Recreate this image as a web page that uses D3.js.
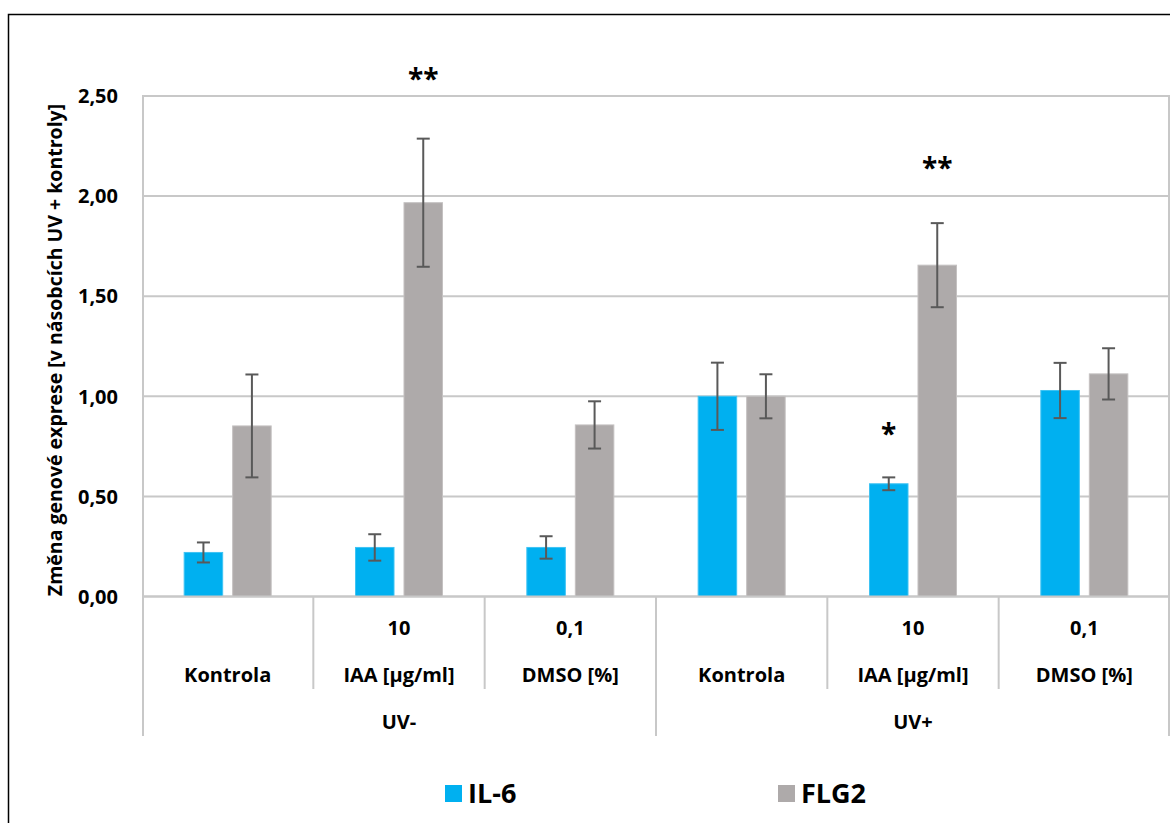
<!DOCTYPE html>
<html><head><meta charset="utf-8">
<script src="https://cdn.jsdelivr.net/npm/d3@7"></script>
<style>
body{margin:0;background:#fff}
svg{display:block}
text{font-family:"Open Sans",sans-serif;font-weight:bold;fill:#000}
</style>
</head><body>
<svg id="c" width="1170" height="823"></svg>
<script>
// ---- data ----
const categories = ["UV- Kontrola","UV- IAA","UV- DMSO","UV+ Kontrola","UV+ IAA","UV+ DMSO"];
const doseLabels = ["", "10", "0,1", "", "10", "0,1"];
const treatmentLabels = ["Kontrola","IAA [µg/ml]","DMSO [%]","Kontrola","IAA [µg/ml]","DMSO [%]"];
const groupLabels = ["UV-","UV+"];
const groupSpans = [[0,2],[3,5]];
const series = ["IL-6","FLG2"];
const il6Values  = [0.220, 0.245, 0.245, 1.000, 0.563, 1.029];
const il6Errors  = [0.050, 0.066, 0.056, 0.168, 0.032, 0.138];
const flg2Values = [0.852, 1.967, 0.857, 1.000, 1.655, 1.112];
const flg2Errors = [0.257, 0.320, 0.118, 0.110, 0.210, 0.128];
const yTicks = [0, 0.5, 1, 1.5, 2, 2.5];
const yTickLabels = ["0,00","0,50","1,00","1,50","2,00","2,50"];
const yTitle = "Změna genové exprese [v násobcích UV + kontroly]";
const annotations = [
  {cat:1, series:"FLG2", text:"**", value:2.607},
  {cat:4, series:"IL-6", text:"*",  value:0.836},
  {cat:4, series:"FLG2", text:"**", value:2.163}
];

const seriesValues = {"IL-6": il6Values, "FLG2": flg2Values};
const seriesErrors = {"IL-6": il6Errors, "FLG2": flg2Errors};
const colors = {"IL-6": "#00b0f0", "FLG2": "#aeaaaa"};
const edgeColors = {"IL-6": "#3fc3f3", "FLG2": "#c4c1c1"};

// ---- layout ----
const svg = d3.select("#c");
const plot = {left:142, right:1170, top:96, bottom:596.5};
const gridColor = "#c8c8c8";

// chart border
svg.append("rect").attr("x",8.5).attr("y",14.5).attr("width",1180).attr("height",830)
  .attr("fill","none").attr("stroke","#000").attr("stroke-width",1.5);

const x0 = d3.scaleBand().domain(categories).range([plot.left, plot.right]).padding(0);
const bw = x0.bandwidth();
const x1 = d3.scaleBand().domain(series).range([bw/2 - 43.5, bw/2 + 43.5]).paddingInner(0.206).paddingOuter(0);
const y = d3.scaleLinear().domain([0, 2.5]).range([plot.bottom, plot.top]);

// gridlines
svg.append("g").selectAll("line").data(yTicks).join("line")
  .attr("x1", plot.left).attr("x2", plot.right)
  .attr("y1", d => y(d)).attr("y2", d => y(d))
  .attr("stroke", gridColor).attr("stroke-width", 2);

// plot area right border
svg.append("line").attr("x1",plot.right-1).attr("x2",plot.right-1).attr("y1",plot.top).attr("y2",plot.bottom)
  .attr("stroke",gridColor).attr("stroke-width",2);

// y tick labels
svg.append("g").selectAll("text").data(yTicks).join("text")
  .attr("x", 118).attr("y", d => y(d)).attr("dy","0.36em")
  .attr("text-anchor","end").attr("font-size",20)
  .text((d,i) => yTickLabels[i]);

// y title
svg.append("text").attr("transform","translate(55,350) rotate(-90)")
  .attr("text-anchor","middle").attr("dy","0.36em").attr("font-size",19.5)
  .text(yTitle);

// bars
const barData = [];
categories.forEach((c,i) => series.forEach(s => barData.push({c, i, s, v: seriesValues[s][i], e: seriesErrors[s][i]})));

svg.append("g").selectAll("rect").data(barData).join("rect")
  .attr("x", d => x0(d.c) + x1(d.s))
  .attr("y", d => y(d.v))
  .attr("width", x1.bandwidth())
  .attr("height", d => y(0) - y(d.v))
  .attr("fill", d => colors[d.s])
  .attr("stroke", d => edgeColors[d.s]).attr("stroke-width", 1);

// zero line on top
svg.append("line").attr("x1",plot.left).attr("x2",plot.right).attr("y1",y(0)).attr("y2",y(0))
  .attr("stroke",gridColor).attr("stroke-width",2);

// error bars
const eb = svg.append("g").attr("stroke","#595959").attr("stroke-width",2);
barData.forEach(d => {
  const cx = x0(d.c) + x1(d.s) + x1.bandwidth()/2;
  eb.append("line").attr("x1",cx).attr("x2",cx).attr("y1",y(d.v+d.e)).attr("y2",y(d.v-d.e));
  eb.append("line").attr("x1",cx-6.5).attr("x2",cx+6.5).attr("y1",y(d.v+d.e)).attr("y2",y(d.v+d.e));
  eb.append("line").attr("x1",cx-6.5).attr("x2",cx+6.5).attr("y1",y(d.v-d.e)).attr("y2",y(d.v-d.e));
});

// annotations
svg.append("g").selectAll("text").data(annotations).join("text")
  .attr("x", d => x0(categories[d.cat]) + x1(d.series) + x1.bandwidth()/2)
  .attr("y", d => y(d.value)).attr("dy","0.52em")
  .attr("text-anchor","middle").attr("font-size",28)
  .text(d => d.text);

// category axis: separators
const sepInner = [1,2,4,5];
svg.append("g").selectAll("line").data(sepInner).join("line")
  .attr("x1", i => x0(categories[i])).attr("x2", i => x0(categories[i]))
  .attr("y1", plot.bottom).attr("y2", 689)
  .attr("stroke", gridColor).attr("stroke-width", 2);
const sepGroup = [plot.left + 1, x0(categories[3]), plot.right - 1];
svg.append("g").selectAll("line").data(sepGroup).join("line")
  .attr("x1", d => d).attr("x2", d => d)
  .attr("y1", (d,i) => i === 1 ? plot.bottom : plot.top).attr("y2", 736)
  .attr("stroke", gridColor).attr("stroke-width", 2);

// category labels
svg.append("g").selectAll("text").data(categories).join("text")
  .attr("x", c => x0(c) + bw/2).attr("y", 628).attr("dy","0.36em")
  .attr("text-anchor","middle").attr("font-size",20)
  .text((c,i) => doseLabels[i]);
svg.append("g").selectAll("text").data(categories).join("text")
  .attr("x", c => x0(c) + bw/2).attr("y", 675).attr("dy","0.36em")
  .attr("text-anchor","middle").attr("font-size",20)
  .text((c,i) => treatmentLabels[i]);
svg.append("g").selectAll("text").data(groupLabels).join("text")
  .attr("x", (g,i) => (x0(categories[groupSpans[i][0]]) + x0(categories[groupSpans[i][1]]) + bw)/2)
  .attr("y", 722).attr("dy","0.36em")
  .attr("text-anchor","middle").attr("font-size",20)
  .text(g => g);

// legend
const legendX = [445, 778];
const lg = svg.append("g");
series.forEach((s,i) => {
  lg.append("rect").attr("x", legendX[i]).attr("y", 785).attr("width",17).attr("height",17).attr("fill", colors[s]);
  lg.append("text").attr("x", legendX[i] + 23).attr("y", 793.5).attr("dy","0.36em")
    .attr("font-size",27).text(s);
});
</script>
</body></html>
